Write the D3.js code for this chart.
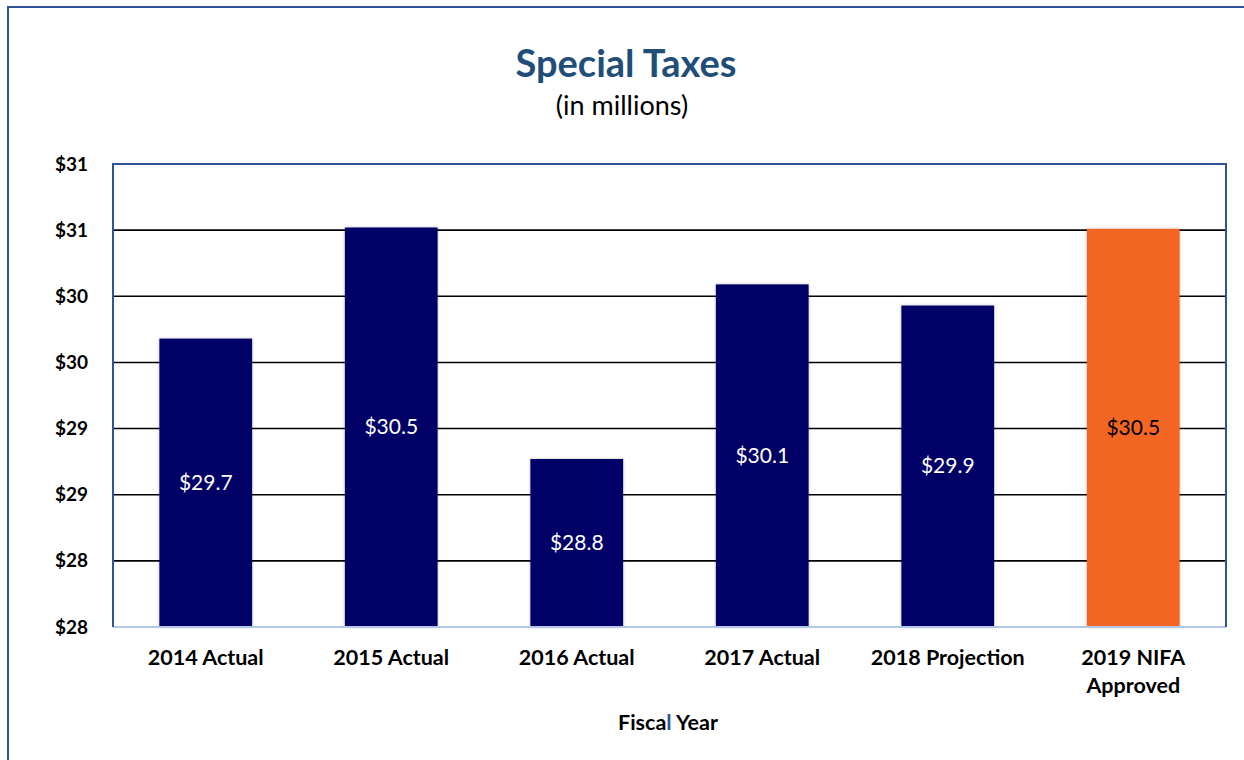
<!DOCTYPE html>
<html><head><meta charset="utf-8">
<script src="https://cdn.jsdelivr.net/npm/d3@7"></script>
<style>body{margin:0;background:#fff;} svg{display:block;font-family:Lato,"Open Sans",sans-serif;}</style>
</head><body><svg id="c" width="1244" height="760"></svg>
<script>
const categories = ["2014 Actual","2015 Actual","2016 Actual","2017 Actual","2018 Projection","2019 NIFA Approved"];
const values = [29.68, 30.52, 28.77, 30.09, 29.93, 30.51];
const barColors = ["#000066","#000066","#000066","#000066","#000066","#F26522"];
const labelColors = ["#ffffff","#ffffff","#ffffff","#ffffff","#ffffff","#000000"];
const yTicks = [27.5, 28, 28.5, 29, 29.5, 30, 30.5, 31];

const svg = d3.select("#c");
const L = 113, R = 1226, T = 164, B = 627;
const x = d3.scaleBand().domain(categories).range([L, R]).paddingInner(0.5).paddingOuter(0.25);
const y = d3.scaleLinear().domain([27.5, 31]).range([B, T]);

// outer border
svg.append("rect").attr("x",8).attr("y",7).attr("width",1260).attr("height",800)
  .attr("fill","none").attr("stroke","#2F5597").attr("stroke-width",2);

// title
svg.append("text").attr("x",626).attr("y",77).attr("text-anchor","middle")
  .attr("font-size",38).attr("font-weight","bold").attr("fill","#1F4E79").text("Special Taxes");
svg.append("text").attr("x",622).attr("y",115).attr("text-anchor","middle")
  .attr("font-size",27).attr("fill","#000").text("(in millions)");

// gridlines
svg.append("g").selectAll("line").data(yTicks.filter(t => t > 27.5 && t < 31)).join("line")
  .attr("x1",L).attr("x2",R).attr("y1",d=>y(d)).attr("y2",d=>y(d))
  .attr("stroke","#000").attr("stroke-width",1.6);

// y axis labels
const yAxis = d3.axisLeft(y).tickValues(yTicks).tickSize(0).tickPadding(25)
  .tickFormat(d => "$" + Math.round(d + 1e-9));
const ya = svg.append("g").attr("transform",`translate(${L},0)`).call(yAxis);
ya.select(".domain").remove();
ya.selectAll("text").attr("font-size",19).attr("font-weight","bold").attr("fill","#000")
  .attr("font-family","Lato,'Open Sans',sans-serif");

// bars with soft shadow
const defs = svg.append("defs");
const f = defs.append("filter").attr("id","sh").attr("x","-10%").attr("y","-10%").attr("width","120%").attr("height","120%");
f.append("feDropShadow").attr("dx",0).attr("dy",0).attr("stdDeviation",1.5).attr("flood-color","#000").attr("flood-opacity",0.25);

svg.append("g").selectAll("rect").data(values).join("rect")
  .attr("x",(d,i)=>x(categories[i])).attr("width",x.bandwidth())
  .attr("y",d=>y(d)).attr("height",d=>B - y(d))
  .attr("fill",(d,i)=>barColors[i]).attr("filter","url(#sh)");

// data labels
svg.append("g").selectAll("text").data(values).join("text")
  .attr("x",(d,i)=>x(categories[i]) + x.bandwidth()/2)
  .attr("y",d=>(y(d)+B)/2 + 7)
  .attr("text-anchor","middle").attr("font-size",21)
  .attr("fill",(d,i)=>labelColors[i]).text(d=>"$" + d.toFixed(1));

// plot frame
svg.append("line").attr("x1",L).attr("x2",R).attr("y1",B).attr("y2",B).attr("stroke","#B4C7E7").attr("stroke-width",2);
svg.append("path").attr("d",`M${L},${B}V${T}H${R}V${B}`).attr("fill","none").attr("stroke","#2F5597").attr("stroke-width",2);

// x axis labels
const xAxis = d3.axisBottom(x).tickSize(0).tickPadding(0);
const xa = svg.append("g").attr("transform",`translate(0,${B})`).call(xAxis);
xa.select(".domain").remove();
xa.selectAll("text").attr("font-size",21.5).attr("font-weight","bold").attr("fill","#000")
  .attr("font-family","Lato,'Open Sans',sans-serif").attr("dy",null).attr("y",38)
  .each(function(d){
    const t = d3.select(this);
    if (d === "2019 NIFA Approved") {
      t.text(null);
      t.append("tspan").attr("x",0).attr("y",38).text("2019 NIFA");
      t.append("tspan").attr("x",0).attr("y",66).text("Approved");
    }
  });

// axis title
const xt = svg.append("text").attr("x",668).attr("y",730).attr("text-anchor","middle")
  .attr("font-size",21.5).attr("font-weight","bold").attr("fill","#000");
xt.append("tspan").text("Fisca");
xt.append("tspan").attr("fill","#2F5597").text("l");
xt.append("tspan").text(" Year");
</script></body></html>
